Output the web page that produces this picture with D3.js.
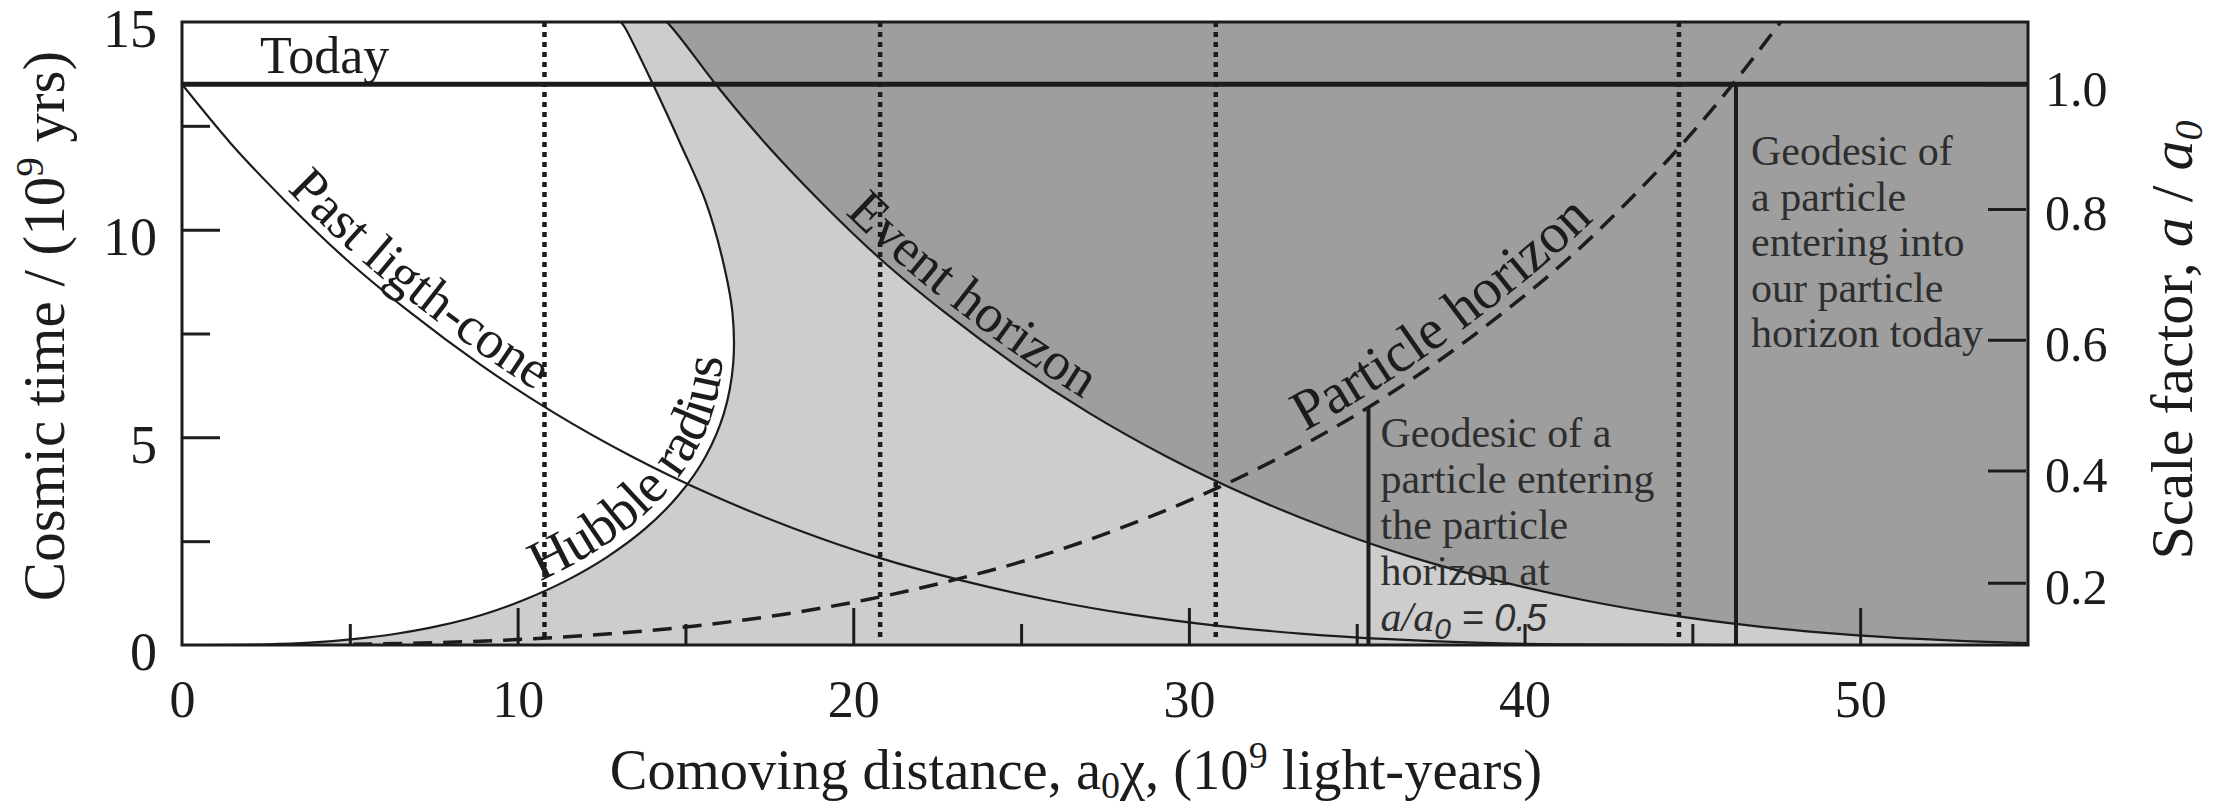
<!DOCTYPE html>
<html>
<head>
<meta charset="utf-8">
<script src="https://cdn.jsdelivr.net/npm/d3@7"></script>
<style>
  html, body { margin: 0; padding: 0; background: #ffffff; }
  svg { display: block; }
  text { font-family: "Liberation Serif", "DejaVu Serif", serif; fill: #1c1c1c; }
</style>
</head>
<body>
<svg id="chart" width="2214" height="806"></svg>
<script>
// Conformal diagram of a flat LCDM universe: comoving distance (10^9 ly) against cosmic time (10^9 yr).
// Every curve is a list of [comoving distance, cosmic time] pairs.

const xTickLabels = [0, 10, 20, 30, 40, 50];
const xMajorTicks = [10, 20, 30, 50];
const xMinorTicks = [5, 15, 25, 35, 40, 45];
const yTickLabels = [0, 5, 10, 15];
const yMajorTicks = [5, 10];
const yMinorTicks = [2.5, 7.5, 12.5];
const scaleFactorLabels = ["0.2", "0.4", "0.6", "0.8", "1.0"];
const scaleFactorTimes = [1.5, 4.2, 7.35, 10.5, 13.5];

const todayTime = 13.5;

const hubbleRadius = [
  [0, 0], [2.55, 0.017], [3.82, 0.057], [5.1, 0.14], [6.38, 0.27], [7.65, 0.46],
  [8.95, 0.73], [10.2, 1.09], [11.45, 1.55], [12.65, 2.11], [13.8, 2.8],
  [14.8, 3.61], [15.6, 4.54], [16.15, 5.59], [16.42, 6.75], [16.4, 8.0],
  [16.1, 9.3], [15.6, 10.68], [14.85, 12.07], [14.05, 13.47], [13.2, 14.86], [13.08, 15.0]
];

const eventHorizon = [
  [14.45, 15.0], [14.6, 14.86], [15.93, 13.47], [17.39, 12.07], [19.02, 10.68],
  [20.8, 9.3], [22.74, 8.0], [24.82, 6.75], [27.02, 5.59], [29.33, 4.54],
  [31.72, 3.61], [34.18, 2.8], [36.66, 2.11], [39.18, 1.55], [41.71, 1.09],
  [44.25, 0.73], [46.8, 0.46], [49.35, 0.27], [51.9, 0.14], [54.45, 0.057], [57.0, 0.017]
];

const pastLightCone = [
  [0, 13.5], [1.46, 12.07], [3.09, 10.68], [4.87, 9.3], [6.81, 8.0], [8.89, 6.75],
  [11.09, 5.59], [13.4, 4.54], [15.79, 3.61], [18.25, 2.8], [20.73, 2.11],
  [23.25, 1.55], [25.78, 1.09], [28.32, 0.73], [30.87, 0.46], [33.42, 0.27],
  [35.97, 0.14], [38.52, 0.057], [41.07, 0.017], [46.17, 0]
];

const particleHorizon = [
  [5.1, 0.017], [7.65, 0.057], [10.2, 0.14], [12.75, 0.27], [15.3, 0.46],
  [17.85, 0.73], [20.39, 1.09], [22.92, 1.55], [25.44, 2.11], [27.92, 2.8],
  [30.38, 3.61], [32.77, 4.54], [35.08, 5.59], [37.28, 6.75], [39.36, 8.0],
  [41.3, 9.3], [43.08, 10.68], [44.71, 12.07], [46.17, 13.47], [47.5, 14.86], [47.63, 15.0]
];

const simultaneityDistances = [10.8, 20.8, 30.8, 44.6];
const geodesicDistances = [35.35, 46.3];
const geodesicEndTimes = [5.7, 13.5];

// ---------------------------------------------------------------------------

const svg = d3.select("#chart");
const x = d3.scaleLinear().domain([0, 55]).range([182, 2028]);
const y = d3.scaleLinear().domain([0, 15]).range([645, 22]);

const INK = "#1c1c1c";
const LIGHT = "#cdcdcd";
const DARK = "#9e9e9e";

svg.append("rect").attr("width", 2214).attr("height", 806).attr("fill", "#ffffff");

const defs = svg.append("defs");
defs.append("clipPath").attr("id", "plot-clip")
  .append("rect")
  .attr("x", x(0)).attr("y", y(15))
  .attr("width", x(55) - x(0)).attr("height", y(0) - y(15));

const plot = svg.append("g").attr("clip-path", "url(#plot-clip)");

const smooth = d3.line().x(d => x(d[0])).y(d => y(d[1])).curve(d3.curveCatmullRom.alpha(0.5));
const monotone = d3.line().x(d => x(d[0])).y(d => y(d[1])).curve(d3.curveMonotoneX);

// Regions: outside the Hubble sphere (light), beyond the event horizon (dark), inside the Hubble sphere (white)
plot.append("rect")
  .attr("x", x(0)).attr("y", y(15))
  .attr("width", x(55) - x(0)).attr("height", y(0) - y(15))
  .attr("fill", LIGHT);

plot.append("path")
  .attr("d", smooth(hubbleRadius) + `L${x(0)},${y(15)}Z`)
  .attr("fill", "#ffffff");

plot.append("path")
  .attr("d", monotone(eventHorizon) + `L${x(57)},${y(15)}Z`)
  .attr("fill", DARK);

// Dotted comoving worldlines
plot.selectAll("line.worldline")
  .data(simultaneityDistances)
  .join("line")
  .attr("class", "worldline")
  .attr("x1", d => x(d)).attr("x2", d => x(d))
  .attr("y1", y(15)).attr("y2", y(0) - 4)
  .attr("stroke", INK).attr("stroke-width", 4.5)
  .attr("stroke-dasharray", "5,5");

// Curves
const hubblePath = plot.append("path")
  .attr("id", "hubble-curve")
  .attr("d", smooth(hubbleRadius))
  .attr("fill", "none").attr("stroke", INK).attr("stroke-width", 2.2);

const eventPath = plot.append("path")
  .attr("id", "event-curve")
  .attr("d", monotone(eventHorizon))
  .attr("fill", "none").attr("stroke", INK).attr("stroke-width", 2.2);

const conePath = plot.append("path")
  .attr("id", "cone-curve")
  .attr("d", monotone(pastLightCone))
  .attr("fill", "none").attr("stroke", INK).attr("stroke-width", 2.2);

const particlePath = plot.append("path")
  .attr("id", "particle-curve")
  .attr("d", monotone(particleHorizon))
  .attr("fill", "none").attr("stroke", INK).attr("stroke-width", 3.5)
  .attr("stroke-dasharray", "19,11");

// Geodesics of two particles
plot.selectAll("line.geodesic")
  .data(geodesicDistances)
  .join("line")
  .attr("class", "geodesic")
  .attr("x1", d => x(d)).attr("x2", d => x(d))
  .attr("y1", y(0)).attr("y2", (d, i) => y(geodesicEndTimes[i]))
  .attr("stroke", INK).attr("stroke-width", 4);

// Today
plot.append("line")
  .attr("x1", x(0)).attr("x2", x(55))
  .attr("y1", y(todayTime)).attr("y2", y(todayTime))
  .attr("stroke", INK).attr("stroke-width", 5);

// Frame
svg.append("rect")
  .attr("x", x(0)).attr("y", y(15))
  .attr("width", x(55) - x(0)).attr("height", y(0) - y(15))
  .attr("fill", "none").attr("stroke", INK).attr("stroke-width", 3);

// Axes: ticks point into the plot
function styleAxis(size) {
  return g => {
    g.select(".domain").remove();
    g.selectAll(".tick line").attr("stroke", INK).attr("stroke-width", 3);
    g.selectAll(".tick text").attr("fill", INK).attr("font-size", size)
      .attr("font-family", '"Liberation Serif", serif');
  };
}

svg.append("g").attr("transform", `translate(0,${y(0)})`)
  .call(d3.axisBottom(x).tickValues(xMajorTicks).tickSize(-37).tickFormat(""))
  .call(styleAxis(52));
svg.append("g").attr("transform", `translate(0,${y(0)})`)
  .call(d3.axisBottom(x).tickValues(xMinorTicks).tickSize(-21).tickFormat(""))
  .call(styleAxis(52));
svg.append("g").attr("transform", `translate(0,${y(0)})`)
  .call(d3.axisBottom(x).tickValues(xTickLabels).tickSize(0).tickPadding(35).tickFormat(d3.format("d")))
  .call(styleAxis(52));

svg.append("g").attr("transform", `translate(${x(0)},0)`)
  .call(d3.axisLeft(y).tickValues(yMajorTicks).tickSize(-38).tickFormat(""))
  .call(styleAxis(52));
svg.append("g").attr("transform", `translate(${x(0)},0)`)
  .call(d3.axisLeft(y).tickValues(yMinorTicks).tickSize(-28).tickFormat(""))
  .call(styleAxis(52));
svg.append("g").attr("transform", `translate(${x(0)},0)`)
  .call(d3.axisLeft(y).tickValues(yTickLabels).tickSize(0).tickPadding(25).tickFormat(d3.format("d")))
  .call(styleAxis(54))
  .call(g => g.selectAll(".tick text").attr("dy", "0.46em"));

// Right axis: scale factor at the matching cosmic times
const scaleAxis = d3.axisRight(y)
  .tickValues(scaleFactorTimes)
  .tickSize(-38)
  .tickPadding(19)
  .tickFormat((d, i) => scaleFactorLabels[i]);
svg.append("g").attr("transform", `translate(${x(55) - 2},0)`)
  .call(scaleAxis)
  .call(styleAxis(50))
  .call(g => g.selectAll(".tick text").attr("dy", "0.42em"));

// Axis titles
const xTitle = svg.append("text")
  .attr("x", 1076).attr("y", 789)
  .attr("text-anchor", "middle").attr("font-size", 56.5);
xTitle.append("tspan").text("Comoving distance, a");
xTitle.append("tspan").attr("font-size", 38).attr("dy", 9).text("0");
xTitle.append("tspan").attr("dy", -9).text("\u03C7, (10");
xTitle.append("tspan").attr("font-size", 38).attr("dy", -21).text("9");
xTitle.append("tspan").attr("dy", 21).text(" light-years)");

const yTitle = svg.append("text")
  .attr("transform", "translate(64,326) rotate(-90)")
  .attr("text-anchor", "middle").attr("font-size", 59);
yTitle.append("tspan").text("Cosmic time / (10");
yTitle.append("tspan").attr("font-size", 39).attr("dy", -21).text("9");
yTitle.append("tspan").attr("dy", 21).text(" yrs)");

const rTitle = svg.append("text")
  .attr("transform", "translate(2192,340) rotate(-90)")
  .attr("text-anchor", "middle").attr("font-size", 60);
rTitle.append("tspan").text("Scale factor, ");
rTitle.append("tspan").attr("font-style", "italic").text("a");
rTitle.append("tspan").text(" / ");
rTitle.append("tspan").attr("font-style", "italic").text("a");
rTitle.append("tspan").attr("font-style", "italic").attr("font-size", 40).attr("dy", 10).text("0");

// "Today"
svg.append("text").attr("x", 260).attr("y", 73).attr("font-size", 52).text("Today");

// Labels set along their curves
function offsetWhere(node, test) {
  const total = node.getTotalLength();
  for (let s = 0; s <= total; s += 1) {
    if (test(node.getPointAtLength(s))) return s;
  }
  return 0;
}

function curveLabel(pathSel, label, test, dy, size) {
  const node = pathSel.node();
  const start = offsetWhere(node, test);
  svg.append("text")
    .attr("font-size", size)
    .attr("dy", dy)
    .append("textPath")
    .attr("href", "#" + node.id)
    .attr("startOffset", start)
    .text(label);
}

curveLabel(conePath, "Past ligth-cone", p => p.x >= 280, -9, 54);
curveLabel(hubblePath, "Hubble radius", p => p.y <= y(1.3), -11, 56);
curveLabel(eventPath, "Event horizon", p => p.x >= 838, -9, 54);
curveLabel(particlePath, "Particle horizon", p => p.x >= 1310, -11, 57);

// Geodesic annotations
const noteColor = "#2e2e2e";
const noteA = svg.append("text")
  .attr("x", x(geodesicDistances[0]) + 12)
  .attr("y", y(geodesicEndTimes[0]) + 39)
  .attr("font-size", 42).style("fill", noteColor);
["Geodesic of a", "particle entering", "the particle", "horizon at"].forEach((line, i) => {
  noteA.append("tspan").attr("x", x(geodesicDistances[0]) + 12).attr("dy", i === 0 ? 0 : 46).text(line);
});
noteA.append("tspan").attr("x", x(geodesicDistances[0]) + 12).attr("dy", 46)
  .attr("font-style", "italic").text("a/a");
noteA.append("tspan").attr("font-style", "italic").attr("font-size", 30).attr("dy", 8)
  .attr("font-family", '"Liberation Sans", sans-serif').text("0");
noteA.append("tspan").attr("font-style", "italic").attr("dy", -8)
  .attr("font-family", '"Liberation Sans", sans-serif').attr("font-size", 38).text(" = 0.5");

const noteB = svg.append("text")
  .attr("x", x(geodesicDistances[1]) + 15)
  .attr("y", y(geodesicEndTimes[1]) + 81)
  .attr("font-size", 42).style("fill", noteColor);
["Geodesic of", "a particle", "entering into", "our particle", "horizon today"].forEach((line, i) => {
  noteB.append("tspan").attr("x", x(geodesicDistances[1]) + 15).attr("dy", i === 0 ? 0 : 45.5).text(line);
});
</script>
</body>
</html>
